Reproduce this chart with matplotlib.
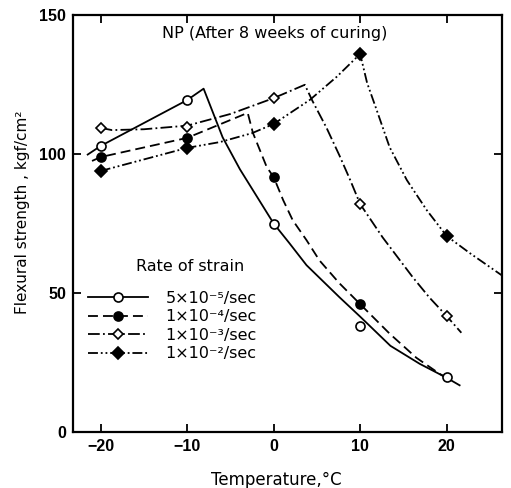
import matplotlib
matplotlib.use("Agg")
import matplotlib.pyplot as plt
from matplotlib.lines import Line2D

plt.rcParams['font.family'] = ['DejaVu Sans']

# ---------------- data ----------------
x_ticks = [-20, -10, 0, 10, 20]
x_tick_labels = ['\u221220', '\u221210', '0', '10', '20']
y_ticks = [0, 50, 100, 150]
y_tick_labels = ['0', '50', '100', '150']

labels = ['5\u00d710\u207b\u2075/sec', '1\u00d710\u207b\u2074/sec',
          '1\u00d710\u207b\u00b3/sec', '1\u00d710\u207b\u00b2/sec']

# measured points
s1_x = [-20, -10, 0, 10, 20]
s1_y = [102.9, 119.4, 74.8, 38.1, 19.8]
s2_x = [-20, -10, 0, 10]
s2_y = [98.9, 105.8, 91.7, 46.0]
s3_x = [-20, -10, 0, 10, 20]
s3_y = [109.4, 109.7, 120.1, 82.0, 41.7]
s4_x = [-20, -10, 0, 10, 20]
s4_y = [93.9, 102.2, 110.8, 136.0, 70.5]

# drawn curves
c1_x = [-21.5, -20, -10, -8.1, -5.9, -3.9, -2.0, 0.0, 1.8, 3.8, 7.6, 10.0, 13.5, 16.9, 20.0, 21.5]
c1_y = [99.8, 102.9, 119.4, 123.5, 106.0, 94.5, 85.0, 75.0, 68.0, 60.0, 48.5, 41.5, 31.0, 24.5, 19.5, 16.8]
c2_x = [-21.0, -20, -10, -3.0, -2.4, -0.8, 0.0, 1.1, 2.2, 3.8, 5.3, 7.6, 10.0, 13.4, 16.5, 19.2, 20.0]
c2_y = [97.5, 98.9, 105.8, 114.8, 107.6, 95.3, 91.7, 83.4, 76.2, 69.0, 61.7, 53.5, 46.0, 35.4, 26.7, 20.9, 19.5]
c3_x = [-20, -18.7, -15.0, -10, -5.0, 0.0, 3.6, 4.5, 6.1, 7.6, 8.8, 10.0, 12.6, 16.1, 18.0, 20.0, 21.7]
c3_y = [109.4, 108.6, 108.9, 110.2, 114.4, 120.1, 124.9, 119.0, 109.5, 99.5, 91.0, 82.0, 70.0, 55.6, 48.4, 41.7, 35.7]
c4_x = [-20, -10, -6.2, -2.5, 0.0, 4.2, 7.3, 10.0, 10.8, 11.9, 13.4, 15.4, 17.7, 20.0, 22.7, 26.4]
c4_y = [93.9, 102.2, 104.3, 107.5, 110.8, 119.5, 127.8, 136.0, 125.6, 115.9, 102.5, 90.6, 79.8, 70.5, 64.3, 56.3]

# ---------------- styling ----------------
lw = 1.3
styles = [
    dict(ls='-', marker='o', mfc='white', ms=6.5),
    dict(ls=(0, (5.5, 2.8)), marker='o', mfc='black', ms=6.5),
    dict(ls=(0, (6.5, 1.8, 1.0, 1.8)), marker='D', mfc='white', ms=5.5),
    dict(ls=(0, (5.5, 1.6, 1.0, 1.6, 1.0, 1.6)), marker='D', mfc='black', ms=6.0),
]

fig = plt.figure(figsize=(5.11, 4.88), dpi=100)
ax = fig.add_axes([73 / 511, 1 - 432 / 488, 429 / 511, 417 / 488])

curves = [(c1_x, c1_y), (c2_x, c2_y), (c3_x, c3_y), (c4_x, c4_y)]
points = [(s1_x, s1_y), (s2_x, s2_y), (s3_x, s3_y), (s4_x, s4_y)]

handles = []
for (cx, cy), (px, py), st, lab in zip(curves, points, styles, labels):
    ax.plot(cx, cy, color='black', lw=lw, ls=st['ls'], zorder=2)
    ax.plot(px, py, ls='none', marker=st['marker'], ms=st['ms'],
            mfc=st['mfc'], mec='black', mew=1.2, zorder=3)
    handles.append(Line2D([], [], color='black', lw=lw, ls=st['ls'],
                          marker=st['marker'], ms=st['ms'], mfc=st['mfc'],
                          mec='black', mew=1.2, label=lab))

ax.set_xlim(-23.2, 26.4)
ax.set_ylim(0, 150)
ax.set_xticks(x_ticks)
ax.set_xticklabels(x_tick_labels)
ax.set_yticks(y_ticks)
ax.set_yticklabels(y_tick_labels)

ax.tick_params(direction='in', length=5.5, width=1.3, top=True, right=True,
               labelsize=11.5, pad=5)
for lab in ax.get_xticklabels() + ax.get_yticklabels():
    lab.set_fontweight('bold')
    lab.set_family('Liberation Sans')
for sp in ax.spines.values():
    sp.set_linewidth(1.6)

ax.text(0.47, 0.955, 'NP (After 8 weeks of curing)', transform=ax.transAxes,
        ha='center', va='center', fontsize=11.5)

ax.set_xlabel('Temperature,\u00b0C', fontsize=12)
ax.xaxis.set_label_coords(0.473, -0.094)
ax.set_ylabel('Flexural strength , kgf/cm\u00b2', fontsize=11)
ax.yaxis.set_label_coords(-0.10, 0.528)

ax.text(0.273, 0.398, 'Rate of strain', transform=ax.transAxes,
        ha='center', va='center', fontsize=11.5)

leg = ax.legend(handles=handles, loc='upper left',
                bbox_to_anchor=(0.035, 0.338), frameon=False, fontsize=11.5,
                handlelength=3.75, handletextpad=1.1, labelspacing=0.21,
                numpoints=1, borderpad=0, borderaxespad=0)

fig.savefig('out.png', dpi=100)
